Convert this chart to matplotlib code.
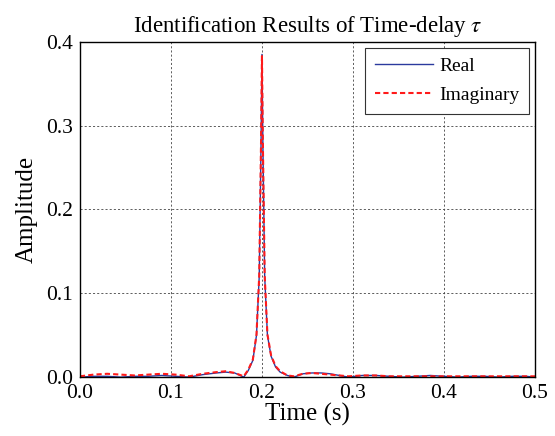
import matplotlib.pyplot as plt

plt.rcParams['font.family'] = ['Liberation Serif', 'DejaVu Serif']
plt.rcParams['mathtext.fontset'] = 'stix'

# time grid (s)
time = [0.000, 0.015, 0.030, 0.045, 0.060, 0.075, 0.090, 0.105, 0.120,
        0.135, 0.150, 0.160, 0.170, 0.180, 0.185, 0.190, 0.194, 0.197,
        0.199, 0.200, 0.201, 0.203, 0.206, 0.210, 0.215, 0.220, 0.228,
        0.235, 0.245, 0.255, 0.265, 0.275, 0.285, 0.295, 0.310, 0.325,
        0.340, 0.355, 0.370, 0.385, 0.400, 0.415, 0.430, 0.445, 0.460,
        0.475, 0.490, 0.500]

real = [0.000, 0.001, 0.001, 0.000, 0.001, 0.001, 0.002, 0.001, 0.000,
        0.003, 0.005, 0.006, 0.005, 0.000, 0.008, 0.020, 0.050, 0.120,
        0.280, 0.385, 0.280, 0.120, 0.050, 0.025, 0.012, 0.006, 0.002,
        0.000, 0.004, 0.005, 0.005, 0.004, 0.002, 0.000, 0.002, 0.002,
        0.001, 0.000, 0.001, 0.002, 0.001, 0.000, 0.001, 0.001, 0.000,
        0.001, 0.001, 0.000]

imag = [0.001, 0.003, 0.004, 0.003, 0.002, 0.003, 0.004, 0.003, 0.001,
        0.004, 0.006, 0.007, 0.005, 0.001, 0.009, 0.021, 0.051, 0.121,
        0.281, 0.383, 0.279, 0.121, 0.051, 0.026, 0.013, 0.007, 0.002,
        0.001, 0.004, 0.005, 0.004, 0.003, 0.002, 0.001, 0.002, 0.002,
        0.001, 0.001, 0.001, 0.001, 0.001, 0.001, 0.001, 0.001, 0.001,
        0.001, 0.001, 0.001]

fig, ax = plt.subplots(figsize=(5.55, 4.36), dpi=100)
fig.subplots_adjust(left=0.144, right=0.964, top=0.904, bottom=0.135)

ax.plot(time, real, '-', color='#2b3a9e', lw=1.0, label='Real')
ax.plot(time, imag, '--', color='#ff1a1a', lw=1.5, dashes=(2.5, 1.5), label='Imaginary')

ax.set_xlim(0, 0.5)
ax.set_ylim(0, 0.4)
ax.set_xticks([0.0, 0.1, 0.2, 0.3, 0.4, 0.5])
ax.set_yticks([0.0, 0.1, 0.2, 0.3, 0.4])
ax.set_xticklabels(['0.0', '0.1', '0.2', '0.3', '0.4', '0.5'])
ax.set_yticklabels(['0.0', '0.1', '0.2', '0.3', '0.4'])
ax.tick_params(labelsize=15.5, direction='in', length=0, pad=5)
ax.grid(True, color='#444444', linestyle=(0, (2.5, 2.5)), lw=0.6)
for s in ax.spines.values():
    s.set_linewidth(1.0)

ax.set_xlabel('Time (s)', fontsize=18, labelpad=0)
ax.set_ylabel('Amplitude', fontsize=18, labelpad=6)
ax.set_title(r'Identification Results of Time-delay $\tau$', fontsize=16.5, pad=7)

leg = ax.legend(loc='upper right', fontsize=14, fancybox=False, framealpha=1,
                edgecolor='#333333', handlelength=3.0, handletextpad=0.3,
                borderaxespad=0.3, borderpad=0.5, labelspacing=0.6)
leg.get_frame().set_linewidth(0.8)

fig.savefig('out.png', dpi=100)
